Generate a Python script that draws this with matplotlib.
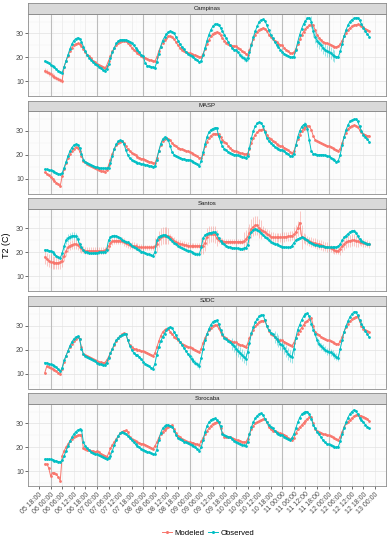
import numpy as np
import matplotlib
matplotlib.use("Agg")
import matplotlib.pyplot as plt
from matplotlib.lines import Line2D

plt.rcParams['font.family'] = ['Liberation Sans', 'DejaVu Sans']

# ---------------- data ----------------
stations = ["Campinas", "MASP", "Santos", "SJDC", "Sorocaba"]
series_names = ["Modeled", "Observed"]
series_colors = ["#F8766D", "#00BFC4"]

tick_hours = list(range(18, 193, 6))          # hours counted from day 05 00:00
tick_labels = ["05 18:00",
               "06 00:00", "06 06:00", "06 12:00", "06 18:00",
               "07 00:00", "07 06:00", "07 12:00", "07 18:00",
               "08 00:00", "08 06:00", "08 12:00", "08 18:00",
               "09 00:00", "09 06:00", "09 12:00", "09 18:00",
               "10 00:00", "10 06:00", "10 12:00", "10 18:00",
               "11 00:00", "11 06:00", "11 12:00", "11 18:00",
               "12 00:00", "12 06:00", "12 12:00", "12 18:00",
               "13 00:00"]
day_lines = [24, 48, 72, 96, 120, 144, 168]

# hourly T2 values, one list per day (05 ends at 23h, 12 ends at 21h)
campinas_obs = [
    [18.4, 18.0, 17.5],
    [16.8, 16.3, 15.7, 15.0, 14.3, 13.8, 13.5, 16.0, 18.5, 21.0, 23.5, 25.5, 27.0, 27.8, 28.2, 27.8, 26.5, 24.5, 22.5, 21.0, 19.8, 18.8, 18.0, 17.3],
    [16.7, 16.0, 15.3, 14.7, 14.3, 15.0, 17.0, 19.5, 22.0, 24.0, 25.8, 26.8, 27.3, 27.4, 27.4, 27.3, 27.0, 26.5, 25.8, 25.0, 24.0, 23.0, 22.0, 21.0],
    [20.5, 17.5, 16.5, 16.2, 16.0, 15.8, 15.5, 18.0, 21.5, 24.5, 27.0, 28.5, 29.8, 30.6, 31.0, 30.6, 30.0, 28.5, 27.0, 25.5, 24.3, 23.3, 22.3, 21.5],
    [21.0, 20.5, 20.0, 19.3, 18.7, 18.0, 18.5, 21.0, 24.0, 27.0, 29.5, 31.5, 33.0, 33.8, 34.0, 33.5, 32.5, 31.0, 29.5, 28.0, 26.5, 25.0, 24.0, 23.2],
    [23.0, 22.0, 21.0, 20.2, 19.5, 19.0, 19.5, 22.0, 25.0, 28.5, 31.0, 33.0, 35.0, 35.7, 35.9, 35.3, 33.5, 31.5, 29.5, 28.0, 26.5, 25.3, 24.3, 23.2],
    [22.4, 21.5, 21.0, 20.5, 20.2, 20.0, 20.3, 23.0, 26.5, 29.5, 32.0, 34.0, 35.3, 36.4, 36.6, 35.0, 31.0, 28.5, 27.0, 26.0, 25.0, 24.0, 23.2, 22.6],
    [22.4, 21.8, 21.0, 20.5, 20.3, 20.1, 22.5, 25.5, 29.0, 31.5, 33.5, 35.0, 35.8, 36.3, 36.6, 36.6, 35.5, 34.0, 32.5, 31.0, 29.8, 28.7],
]
campinas_mod = [
    [14.3, 14.0, 13.3],
    [12.8, 12.2, 11.8, 11.3, 10.8, 10.4, 10.2, 16.0, 18.5, 20.5, 22.5, 24.0, 25.0, 25.6, 25.8, 25.5, 24.8, 23.5, 22.0, 21.0, 20.5, 19.5, 18.5, 17.8],
    [17.2, 16.8, 16.2, 15.8, 15.3, 16.5, 18.5, 20.5, 22.5, 24.0, 25.2, 26.0, 26.6, 26.9, 27.0, 26.8, 26.0, 25.0, 24.0, 23.2, 22.5, 21.8, 21.2, 20.5],
    [20.3, 19.8, 19.4, 19.0, 18.7, 18.4, 18.3, 20.0, 22.5, 24.5, 26.0, 27.3, 28.2, 28.8, 28.9, 28.5, 27.5, 26.3, 25.0, 24.0, 23.2, 22.5, 22.0, 21.8],
    [21.7, 21.4, 21.1, 20.8, 20.5, 20.2, 20.0, 21.5, 23.5, 25.5, 27.3, 28.8, 29.8, 30.4, 30.6, 30.2, 29.2, 28.0, 27.0, 26.2, 25.6, 25.2, 24.9, 24.7],
    [24.6, 24.0, 23.3, 22.6, 22.0, 21.5, 21.0, 23.0, 25.5, 27.8, 29.5, 30.8, 31.6, 32.0, 32.3, 32.0, 31.0, 29.5, 28.5, 27.7, 27.0, 26.3, 25.7, 25.2],
    [25.0, 24.0, 23.2, 22.5, 21.9, 21.6, 22.0, 23.5, 25.5, 27.5, 29.3, 30.8, 32.0, 32.9, 33.4, 33.7, 33.5, 31.5, 29.5, 28.3, 27.3, 26.6, 26.2, 25.9],
    [25.6, 25.2, 24.8, 24.4, 24.4, 24.6, 25.5, 27.0, 28.8, 30.3, 31.5, 32.3, 33.0, 33.4, 33.7, 33.8, 33.7, 33.2, 32.6, 32.0, 31.4, 30.9],
]
masp_obs = [
    [13.9, 13.8, 13.6],
    [13.4, 13.2, 12.8, 12.4, 12.0, 11.7, 12.3, 14.5, 17.0, 19.5, 21.5, 23.0, 24.0, 24.4, 24.3, 23.0, 20.5, 18.0, 17.0, 16.5, 16.0, 15.6, 15.3, 15.0],
    [14.7, 14.5, 14.4, 14.3, 14.3, 14.3, 14.6, 16.5, 19.5, 22.5, 24.5, 25.6, 26.0, 25.8, 24.5, 22.0, 19.8, 18.5, 17.8, 17.3, 16.9, 16.6, 16.4, 16.2],
    [16.0, 15.8, 15.6, 15.4, 15.2, 15.0, 15.3, 18.0, 21.5, 24.5, 26.5, 27.4, 27.2, 26.0, 23.5, 21.0, 20.0, 19.5, 19.0, 18.7, 18.4, 18.2, 18.0, 17.9],
    [17.8, 17.4, 17.0, 16.5, 16.0, 15.3, 17.5, 21.0, 24.5, 27.5, 29.5, 30.5, 31.0, 31.3, 31.4, 28.0, 25.5, 23.5, 22.5, 21.8, 21.3, 20.8, 20.4, 20.1],
    [20.0, 19.8, 19.5, 19.2, 18.9, 18.6, 19.5, 23.0, 27.0, 30.0, 32.0, 33.2, 33.6, 33.4, 32.0, 29.5, 27.0, 25.7, 24.8, 24.0, 23.4, 22.9, 22.5, 22.1],
    [22.0, 21.4, 20.8, 20.2, 19.6, 19.3, 20.5, 24.0, 27.5, 30.0, 31.8, 32.7, 32.9, 31.0, 26.0, 21.5, 20.5, 20.2, 20.0, 20.0, 20.0, 20.0, 19.8, 19.5],
    [19.3, 18.8, 18.2, 17.6, 17.1, 17.5, 20.0, 24.0, 27.5, 30.5, 32.5, 34.0, 34.5, 34.9, 35.0, 34.0, 32.0, 30.0, 28.5, 27.5, 26.5, 25.5],
]
masp_mod = [
    [12.6, 12.0, 11.3],
    [10.5, 9.8, 9.0, 8.3, 7.6, 6.9, 11.0, 14.0, 16.5, 18.5, 20.2, 21.5, 22.5, 23.1, 23.0, 21.5, 19.5, 17.5, 16.8, 16.3, 15.8, 15.3, 14.9, 14.5],
    [14.1, 13.7, 13.3, 13.0, 12.9, 13.5, 15.5, 18.0, 20.5, 22.5, 24.0, 25.0, 25.5, 25.7, 25.0, 23.5, 22.3, 21.5, 20.8, 20.2, 19.7, 19.2, 18.8, 18.4],
    [18.3, 17.9, 17.5, 17.1, 16.8, 16.5, 16.4, 18.5, 21.5, 24.0, 25.8, 26.8, 27.1, 26.8, 26.0, 25.0, 24.0, 23.5, 23.0, 22.6, 22.3, 22.0, 21.7, 21.5],
    [21.3, 20.8, 20.3, 19.8, 19.3, 18.8, 18.6, 20.5, 23.5, 25.5, 27.0, 28.0, 28.6, 28.9, 28.8, 28.8, 27.5, 26.2, 25.3, 24.8, 23.8, 23.0, 22.2, 21.6],
    [21.4, 21.1, 20.8, 20.6, 20.4, 20.3, 20.5, 22.5, 25.0, 27.0, 28.5, 29.5, 30.2, 30.6, 30.7, 30.0, 28.5, 27.2, 26.5, 25.8, 25.2, 24.6, 24.0, 23.6],
    [23.6, 23.0, 22.5, 21.9, 21.3, 20.7, 21.5, 24.0, 26.5, 28.5, 30.0, 31.0, 31.6, 32.0, 32.1, 30.5, 28.0, 26.3, 25.8, 25.3, 24.9, 24.5, 24.2, 23.8],
    [23.6, 23.2, 22.8, 22.4, 22.0, 21.7, 22.5, 25.0, 27.5, 29.3, 30.8, 31.7, 32.2, 32.4, 32.3, 31.5, 30.5, 29.5, 28.8, 28.3, 28.0, 27.9],
]
santos_obs = [
    [21.0, 20.9, 20.7],
    [20.5, 20.0, 19.2, 18.4, 17.8, 17.7, 19.5, 22.5, 25.0, 26.0, 26.6, 26.9, 27.0, 26.8, 25.5, 23.5, 22.0, 21.0, 20.3, 19.9, 19.7, 19.6, 19.6, 19.7],
    [19.8, 19.9, 19.9, 19.9, 20.0, 21.0, 25.0, 26.3, 26.8, 27.0, 26.8, 26.5, 26.0, 25.3, 24.8, 24.4, 24.1, 23.5, 22.8, 22.2, 21.7, 21.3, 20.8, 20.3],
    [20.0, 19.6, 19.3, 19.1, 18.8, 18.5, 20.0, 25.0, 26.5, 27.0, 27.2, 27.3, 27.0, 26.3, 25.5, 24.8, 24.0, 23.5, 22.8, 22.2, 21.7, 21.3, 21.0, 20.7],
    [20.6, 20.2, 19.8, 19.4, 19.1, 19.1, 22.0, 26.0, 27.3, 27.8, 28.1, 28.3, 28.4, 28.4, 27.5, 26.0, 24.8, 24.0, 23.3, 22.7, 22.2, 22.0, 21.9, 21.8],
    [21.7, 21.6, 21.5, 21.5, 21.6, 21.8, 23.0, 26.5, 28.5, 29.5, 29.9, 29.5, 28.8, 27.9, 27.2, 26.5, 25.8, 25.0, 24.5, 24.0, 23.6, 23.3, 23.0, 22.7],
    [22.4, 22.2, 22.1, 22.0, 22.1, 22.8, 24.0, 25.0, 25.6, 26.0, 26.3, 26.0, 25.5, 25.0, 24.5, 24.0, 23.5, 23.2, 23.0, 22.8, 22.6, 22.5, 22.3, 22.2],
    [22.1, 22.1, 22.1, 22.1, 22.2, 22.5, 23.5, 25.0, 26.3, 27.0, 27.8, 28.5, 29.0, 29.1, 28.3, 27.0, 25.5, 24.9, 24.4, 24.0, 23.6, 23.4],
]
santos_mod = [
    [18.0, 17.0, 16.4],
    [16.0, 15.7, 15.6, 15.6, 15.6, 15.8, 16.5, 18.5, 20.5, 22.0, 22.8, 23.2, 23.4, 23.4, 23.0, 22.3, 21.6, 21.0, 20.6, 20.6, 20.6, 20.6, 20.6, 20.6],
    [20.6, 20.6, 20.6, 20.6, 20.8, 21.5, 22.5, 23.8, 24.6, 24.9, 24.9, 24.9, 24.9, 24.8, 24.3, 23.8, 23.4, 23.0, 22.8, 22.7, 22.5, 22.3, 22.1, 22.0],
    [22.0, 22.0, 22.0, 22.0, 22.0, 22.0, 22.5, 23.5, 25.5, 26.5, 27.0, 27.0, 27.0, 26.8, 26.3, 25.5, 24.8, 24.2, 23.8, 23.5, 23.3, 23.2, 23.0, 22.8],
    [22.7, 22.7, 22.7, 22.7, 22.7, 22.7, 22.7, 22.8, 24.0, 26.5, 27.5, 27.7, 27.7, 27.5, 26.0, 25.0, 24.7, 24.6, 24.5, 24.5, 24.5, 24.5, 24.5, 24.5],
    [24.5, 24.5, 24.5, 24.5, 24.6, 25.5, 26.5, 28.0, 29.9, 30.8, 31.3, 31.3, 30.0, 29.5, 29.0, 28.4, 27.8, 27.2, 26.6, 26.4, 26.3, 26.3, 26.3, 26.3],
    [26.4, 26.5, 26.6, 26.7, 26.8, 27.0, 27.5, 28.5, 30.0, 32.5, 26.5, 26.0, 25.5, 25.0, 24.6, 24.3, 24.0, 23.8, 23.5, 23.3, 23.0, 22.7, 22.4, 22.1],
    [22.0, 21.6, 21.2, 20.8, 20.6, 20.6, 21.5, 22.5, 23.5, 24.2, 24.6, 24.9, 25.0, 25.0, 24.9, 24.7, 24.5, 24.2, 23.9, 23.7, 23.5, 23.4],
]
sjdc_obs = [
    [14.6, 14.4, 14.1],
    [13.8, 13.5, 13.2, 12.6, 11.8, 10.9, 12.5, 15.5, 17.5, 19.5, 21.7, 23.3, 24.5, 25.3, 25.7, 24.5, 20.5, 18.1, 17.5, 17.0, 16.6, 16.2, 15.7, 15.2],
    [14.6, 14.2, 13.8, 13.5, 13.4, 14.5, 16.5, 18.5, 20.3, 22.5, 24.0, 25.0, 25.8, 26.3, 26.6, 26.7, 24.0, 21.7, 20.0, 18.7, 18.0, 17.6, 17.0, 16.0],
    [15.0, 14.2, 13.6, 13.0, 12.5, 12.1, 14.0, 18.0, 21.0, 23.5, 25.3, 26.8, 28.1, 29.0, 29.6, 29.0, 27.5, 26.0, 24.5, 23.3, 22.0, 20.8, 19.6, 18.3],
    [17.2, 16.2, 15.3, 14.6, 13.8, 13.1, 16.5, 20.5, 24.0, 26.5, 28.8, 30.5, 31.7, 32.3, 32.4, 31.0, 28.5, 26.5, 25.0, 24.4, 23.8, 23.2, 22.4, 21.5],
    [20.5, 19.5, 18.7, 17.8, 17.0, 16.2, 19.0, 23.0, 27.0, 29.5, 31.5, 33.0, 34.0, 34.5, 34.6, 32.5, 30.0, 28.3, 27.2, 26.5, 25.5, 24.5, 23.5, 22.4],
    [22.0, 20.8, 19.5, 18.3, 17.5, 17.0, 20.5, 25.0, 28.5, 30.5, 32.5, 34.0, 35.0, 35.3, 34.0, 31.0, 28.5, 26.5, 24.0, 22.5, 21.5, 20.8, 20.0, 19.4],
    [19.2, 18.9, 18.3, 17.6, 17.0, 16.7, 20.5, 24.0, 27.5, 30.0, 32.0, 33.8, 35.0, 35.8, 36.0, 34.5, 32.5, 31.0, 29.5, 28.0, 26.5, 25.3],
]
sjdc_mod = [
    [10.3, 13.0, 12.8],
    [12.3, 11.9, 11.5, 11.0, 10.4, 9.9, 12.0, 15.0, 17.5, 19.5, 21.2, 22.5, 23.7, 24.7, 25.3, 24.5, 21.0, 18.3, 17.8, 17.4, 17.0, 16.5, 16.0, 15.5],
    [15.2, 14.9, 14.7, 14.6, 14.6, 15.5, 17.0, 18.8, 20.3, 22.0, 23.5, 24.8, 25.8, 26.5, 27.0, 26.5, 24.0, 22.0, 21.0, 20.5, 20.2, 19.9, 19.7, 19.5],
    [19.4, 19.0, 18.6, 18.2, 17.8, 17.4, 18.5, 21.0, 23.5, 25.8, 27.4, 28.3, 28.8, 28.9, 27.5, 26.5, 25.5, 24.8, 24.2, 23.3, 22.5, 21.9, 21.4, 21.1],
    [21.0, 20.6, 20.2, 19.8, 19.4, 18.9, 20.5, 23.0, 25.0, 26.8, 28.2, 29.2, 29.9, 30.3, 30.3, 29.0, 27.5, 26.3, 25.5, 24.9, 24.3, 23.8, 23.4, 23.1],
    [23.1, 22.6, 22.2, 21.8, 21.4, 21.0, 22.5, 25.0, 26.8, 28.3, 29.8, 30.8, 31.6, 32.1, 32.3, 32.4, 30.0, 28.0, 26.7, 26.0, 25.3, 24.7, 24.2, 23.9],
    [23.9, 23.4, 22.9, 22.4, 21.9, 21.7, 23.0, 25.0, 26.7, 28.0, 29.3, 30.5, 31.5, 32.3, 33.0, 33.4, 30.0, 27.5, 26.7, 26.2, 25.5, 24.9, 24.4, 23.9],
    [23.9, 23.5, 23.1, 22.8, 22.5, 22.4, 23.5, 25.5, 27.5, 29.6, 31.0, 32.0, 32.8, 33.4, 33.9, 34.1, 32.0, 30.0, 28.9, 28.2, 27.8, 27.4],
]
sorocaba_obs = [
    [15.0, 15.0, 15.0],
    [14.9, 14.7, 14.4, 14.2, 14.0, 13.9, 14.5, 16.4, 18.5, 20.5, 22.5, 24.2, 25.5, 26.5, 27.2, 27.5, 27.4, 22.1, 20.5, 19.5, 18.7, 18.0, 17.5, 17.0],
    [17.0, 16.6, 16.2, 15.8, 15.3, 15.0, 15.4, 16.5, 18.5, 21.0, 23.0, 24.8, 25.8, 26.4, 26.2, 25.5, 24.8, 24.0, 23.0, 22.0, 21.2, 20.5, 19.9, 19.3],
    [19.0, 18.6, 18.2, 17.8, 17.4, 17.1, 17.0, 19.0, 23.0, 26.0, 27.9, 28.8, 29.3, 29.3, 29.0, 28.6, 27.0, 25.0, 23.9, 23.4, 22.9, 22.4, 22.0, 21.7],
    [21.4, 20.9, 20.4, 20.0, 19.3, 18.6, 20.0, 23.0, 26.5, 29.0, 30.5, 31.5, 32.0, 32.1, 31.5, 30.5, 29.0, 25.5, 25.0, 24.7, 24.4, 24.2, 23.6, 22.8],
    [22.3, 21.9, 21.5, 21.1, 20.8, 20.7, 22.0, 25.5, 28.5, 30.5, 32.2, 33.3, 34.0, 34.3, 33.5, 32.0, 30.5, 29.3, 28.5, 27.9, 27.0, 26.2, 25.6, 25.2],
    [25.0, 24.5, 24.0, 23.3, 22.9, 24.0, 25.5, 28.0, 30.5, 32.5, 33.8, 34.6, 35.0, 35.0, 34.0, 32.0, 29.5, 27.9, 26.5, 25.5, 24.2, 23.0, 22.0, 21.4],
    [21.2, 20.8, 20.4, 20.1, 20.0, 20.3, 22.5, 25.5, 28.3, 30.5, 32.5, 34.0, 35.0, 35.7, 35.3, 34.0, 32.5, 31.4, 30.5, 29.5, 28.7, 27.9],
]
sorocaba_mod = [
    [12.9, 12.9, 11.4],
    [7.9, 9.3, 9.0, 8.6, 7.5, 5.9, 16.4, 18.5, 20.0, 21.4, 22.6, 23.6, 24.3, 24.7, 25.0, 25.3, 25.0, 19.5, 19.3, 19.0, 18.8, 18.6, 18.4, 18.2],
    [18.3, 17.8, 17.3, 16.6, 16.3, 15.7, 17.5, 19.5, 21.0, 22.3, 23.5, 24.7, 25.8, 26.6, 27.0, 27.1, 26.4, 24.5, 23.5, 22.9, 22.5, 22.1, 21.8, 21.5],
    [21.4, 21.0, 20.6, 20.2, 19.8, 19.3, 20.5, 22.0, 24.0, 25.5, 26.4, 27.3, 28.0, 28.7, 29.1, 29.3, 27.5, 25.8, 24.8, 24.3, 23.5, 23.0, 22.5, 22.2],
    [22.1, 21.9, 21.7, 21.5, 21.2, 21.0, 22.5, 24.0, 25.5, 26.8, 28.0, 29.0, 29.8, 30.3, 30.6, 30.7, 28.0, 26.0, 24.5, 24.3, 24.3, 24.2, 23.9, 23.5],
    [23.2, 22.9, 22.6, 22.4, 22.2, 22.1, 23.5, 25.5, 27.5, 29.0, 30.0, 30.6, 31.0, 31.5, 31.8, 31.9, 30.5, 28.5, 27.5, 27.0, 26.8, 26.4, 26.0, 25.8],
    [25.7, 25.2, 24.6, 24.0, 23.4, 22.9, 24.0, 25.8, 27.5, 28.5, 29.3, 30.3, 31.2, 32.0, 32.6, 32.9, 30.0, 27.5, 26.8, 26.3, 26.0, 25.7, 25.4, 25.0],
    [25.0, 24.6, 24.2, 23.8, 23.4, 23.0, 24.5, 26.5, 28.5, 30.0, 30.7, 31.5, 32.3, 33.0, 33.4, 33.6, 33.3, 33.0, 32.9, 32.5, 32.0, 31.0],
]

# error-bar half widths: (first hour, last hour, half width); default below
err_default = 0.3
campinas_mod_err = [(21, 30, 1.0)]
campinas_obs_err = [(122, 126, 1.0), (159, 171, 2.5)]
masp_mod_err = []
masp_obs_err = [(155, 158, 1.0)]
santos_mod_err = [(21, 30, 2.8), (31, 40, 2.0), (41, 71, 1.5), (72, 77, 1.0), (78, 85, 3.5),
                  (86, 95, 1.5), (96, 101, 1.0), (102, 110, 3.5), (111, 119, 1.2),
                  (120, 123, 1.0), (124, 133, 4.0), (134, 149, 2.0), (150, 152, 3.0),
                  (153, 154, 5.0), (155, 167, 2.0), (168, 173, 1.5), (174, 183, 2.5),
                  (184, 189, 1.5)]
santos_obs_err = [(30, 38, 1.5), (39, 189, 0.5)]
sjdc_mod_err = []
sjdc_obs_err = [(96, 101, 1.0), (118, 126, 2.5), (140, 150, 2.5), (162, 173, 1.5)]
sorocaba_mod_err = []
sorocaba_obs_err = []

data = {
    "Campinas": (campinas_mod, campinas_obs, campinas_mod_err, campinas_obs_err),
    "MASP": (masp_mod, masp_obs, masp_mod_err, masp_obs_err),
    "Santos": (santos_mod, santos_obs, santos_mod_err, santos_obs_err),
    "SJDC": (sjdc_mod, sjdc_obs, sjdc_mod_err, sjdc_obs_err),
    "Sorocaba": (sorocaba_mod, sorocaba_obs, sorocaba_mod_err, sorocaba_obs_err),
}


def flatten(days):
    xs, ys = [], []
    for k, seg in enumerate(days):
        base = 24 * k   # day 05 -> 0, day 06 -> 24, ...
        start = 24 - len(seg) if k == 0 else 0
        for j, v in enumerate(seg):
            xs.append(base + start + j)
            ys.append(v)
    return np.array(xs, float), np.array(ys, float)


def errs(xs, spans):
    e = np.full(len(xs), err_default)
    for a, b, w in spans:
        e[(xs >= a) & (xs <= b)] = w
    return e


# ---------------- figure ----------------
W, H = 388, 538
fig = plt.figure(figsize=(W / 100, H / 100), dpi=100)
left, right = 28 / W, 386 / W
period, strip_h, plot_h, top0 = 97.5, 10.5, 82.5, 3.0
xlim = (12.3, 197.7)
ylim = (3.7, 38.4)

for i, st in enumerate(stations):
    strip_top = top0 + period * i
    plot_top = strip_top + strip_h
    ax = fig.add_axes([left, 1 - (plot_top + plot_h) / H, right - left, plot_h / H])
    sax = fig.add_axes([left, 1 - plot_top / H, right - left, strip_h / H])

    # strip
    sax.set_facecolor("#D9D9D9")
    sax.set_xticks([]); sax.set_yticks([])
    for sp in sax.spines.values():
        sp.set_color("#8C8C8C"); sp.set_linewidth(0.6)
    sax.text(0.5, 0.5, st, ha="center", va="center", fontsize=4.3,
             color="#1A1A1A", transform=sax.transAxes)

    # grid
    ax.set_xlim(*xlim); ax.set_ylim(*ylim)
    for h in np.arange(13, 198, 1):
        ax.axvline(h, color="#F1F1F1", lw=0.3, zorder=0)
    for h in tick_hours:
        ax.axvline(h, color="#E4E4E4", lw=0.4, zorder=0)
    for h in day_lines:
        ax.axvline(h, color="#BDBDBD", lw=0.8, zorder=0.5)
    for y in [5, 15, 25, 35]:
        ax.axhline(y, color="#F1F1F1", lw=0.35, zorder=0)
    for y in [10, 20, 30]:
        ax.axhline(y, color="#E2E2E2", lw=0.5, zorder=0)

    mod, obs, emod, eobs = data[st]
    for days, spans, col in [(mod, emod, series_colors[0]), (obs, eobs, series_colors[1])]:
        xs, ys = flatten(days)
        e = errs(xs, spans)
        ax.vlines(xs, ys - e, ys + e, color=col, lw=0.5, alpha=0.55, zorder=2)
        ax.plot(xs, ys, "-", color=col, lw=0.7, zorder=3)
        ax.plot(xs, ys, "o", color=col, ms=2.0, mew=0, zorder=3)

    ax.set_yticks([10, 20, 30])
    ax.set_yticklabels(["10", "20", "30"], fontsize=5, color="#4D4D4D")
    ax.tick_params(axis="y", length=2, width=0.5, color="#333333", pad=1)
    for sp in ax.spines.values():
        sp.set_color("#8C8C8C"); sp.set_linewidth(0.6)

    if i == len(stations) - 1:
        ax.set_xticks(tick_hours)
        ax.set_xticklabels(tick_labels, rotation=45, ha="right", va="top",
                           rotation_mode="anchor", fontsize=5, color="#4D4D4D")
        ax.tick_params(axis="x", length=2, width=0.5, color="#333333", pad=1.5)
    else:
        ax.set_xticks([])

fig.text(7 / W, 1 - 245 / H, "T2 (C)", rotation=90, ha="center", va="center",
         fontsize=6.5, color="black")

handles = [Line2D([], [], color=c, lw=0.7, marker="o", ms=2.2, mew=0) for c in series_colors]
fig.legend(handles, series_names, loc="center", bbox_to_anchor=(208 / W, 1 - 533 / H),
           ncol=2, frameon=False, fontsize=5.6, handlelength=1.3, handletextpad=0.3,
           columnspacing=0.5, borderaxespad=0)

fig.savefig("out.png", dpi=100)
